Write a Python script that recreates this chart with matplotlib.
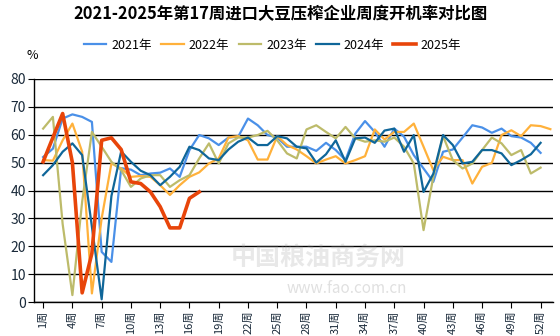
import matplotlib
matplotlib.use("Agg")
import matplotlib.pyplot as plt

plt.rcParams['font.family'] = ['Noto Sans CJK SC', 'DejaVu Sans']

title = '2021-2025年第17周进口大豆压榨企业周度开机率对比图'
labels = ['2021年', '2022年', '2023年', '2024年', '2025年']
colors = ['#4a90e8', '#ffb13b', '#bdbb6a', '#0f6699', '#e8450a']

y2021 = [52.0, 55.0, 65.8, 67.3, 66.4, 64.6, 18.0, 14.4, 48.0, 47.5,
         45.5, 46.1, 46.4, 47.9, 44.9, 54.5, 59.9, 58.7, 56.3, 59.0,
         59.3, 65.8, 63.4, 59.9, 59.0, 55.7, 55.7, 55.7, 54.2, 57.1,
         54.5, 50.9, 60.4, 64.9, 61.0, 55.7, 62.2, 59.3, 52.7, 47.9,
         43.1, 53.9, 54.7, 59.0, 63.4, 62.6, 60.7, 62.2, 59.5, 59.0,
         57.1, 53.5]
y2022 = [50.9, 50.7, 58.0, 64.0, 53.9, 3.1, 30.0, 49.7, 47.9, 44.9,
         45.2, 44.9, 41.9, 38.4, 41.9, 44.9, 46.5, 49.7, 51.5, 59.0,
         59.5, 58.0, 51.1, 51.1, 59.5, 56.3, 54.7, 52.3, 49.7, 51.1,
         52.3, 49.7, 50.9, 52.3, 61.9, 58.3, 61.0, 61.0, 64.0, 55.7,
         47.3, 52.1, 50.9, 50.9, 42.5, 48.5, 49.9, 59.9, 61.6, 59.5,
         63.4, 63.1, 62.0]
y2023 = [62.2, 66.4, 28.0, 2.5, 36.0, 61.0, 55.7, 50.3, 47.3, 41.3,
         44.3, 45.5, 45.5, 41.3, 43.7, 45.5, 51.5, 56.9, 49.7, 56.9,
         59.0, 59.0, 59.9, 61.4, 58.0, 53.3, 51.5, 61.9, 63.4, 61.0,
         58.7, 62.8, 58.7, 57.5, 58.0, 57.5, 59.0, 55.7, 49.7, 25.8,
         44.9, 59.5, 50.9, 47.9, 49.7, 54.5, 59.0, 56.9, 52.7, 54.5,
         46.1, 48.2]
y2024 = [45.5, 49.1, 53.9, 56.9, 52.7, 27.0, 1.0, 38.0, 54.0, 50.3,
         47.1, 45.5, 41.9, 44.9, 48.5, 55.7, 54.5, 51.5, 50.9, 54.7,
         57.5, 59.0, 56.3, 56.3, 59.5, 58.7, 55.7, 55.1, 50.0, 53.0,
         58.0, 50.3, 58.7, 59.0, 57.1, 61.5, 62.2, 53.9, 59.9, 39.5,
         46.0, 59.9, 56.3, 49.7, 50.3, 54.5, 54.5, 53.3, 49.1, 50.9,
         53.0, 57.1]
y2025 = [50.3, 59.0, 67.6, 50.0, 3.3, 17.5, 58.0, 58.9, 54.7, 43.1,
         42.5, 39.5, 34.2, 26.6, 26.6, 37.2, 39.5]

series = [y2021, y2022, y2023, y2024, y2025]
tick_weeks = list(range(1, 53, 3))

fig = plt.figure(figsize=(5.6, 3.36), dpi=100)
ax = fig.add_axes([0.061, 0.101, 0.927, 0.664])

for vals, lab, c in zip(series, labels, colors):
    lw = 2.6 if lab == '2025年' else 1.6
    ax.plot(range(1, len(vals) + 1), vals, color=c, lw=lw, label=lab,
            solid_joinstyle='round', zorder=3 if lab == '2025年' else 2)

ax.set_xlim(0.08, 53.3)
ax.set_ylim(0, 80)
ax.set_yticks(range(0, 81, 10))
ax.set_xticks(tick_weeks)
ax.set_xticklabels([f'{w}周' for w in tick_weeks], rotation=90, fontsize=8,
                   color='#1a2a3a')
ax.tick_params(axis='y', labelsize=10, length=4, color='black',
               labelcolor='#1a2a3a', pad=2)
ax.tick_params(axis='x', length=4, color='black', pad=2)
ax.grid(axis='y', color='black', lw=1)
ax.set_axisbelow(True)
for s in ['top', 'right']:
    ax.spines[s].set_visible(False)
for s in ['left', 'bottom']:
    ax.spines[s].set_color('black')
    ax.spines[s].set_linewidth(1)

# faint site watermark
fig.text(0.568, 0.232, '中国粮油商务网', fontsize=18, color='#999999',
         alpha=0.22, ha='center', va='center', fontweight='bold')
fig.text(0.62, 0.14, 'www.fao.com.cn', fontsize=11, color='#999999',
         alpha=0.3, ha='center', va='center')

fig.text(0.5, 0.957, title, ha='center', va='center', fontsize=11.8,
         fontweight='bold')
fig.text(0.057, 0.835, '%', ha='center', va='center', fontsize=9)
fig.legend(loc='center', bbox_to_anchor=(0.487, 0.866), ncol=5, frameon=False,
           fontsize=9, handlelength=1.8, columnspacing=0.75, handletextpad=0.4)

fig.savefig('out.png', dpi=100)
